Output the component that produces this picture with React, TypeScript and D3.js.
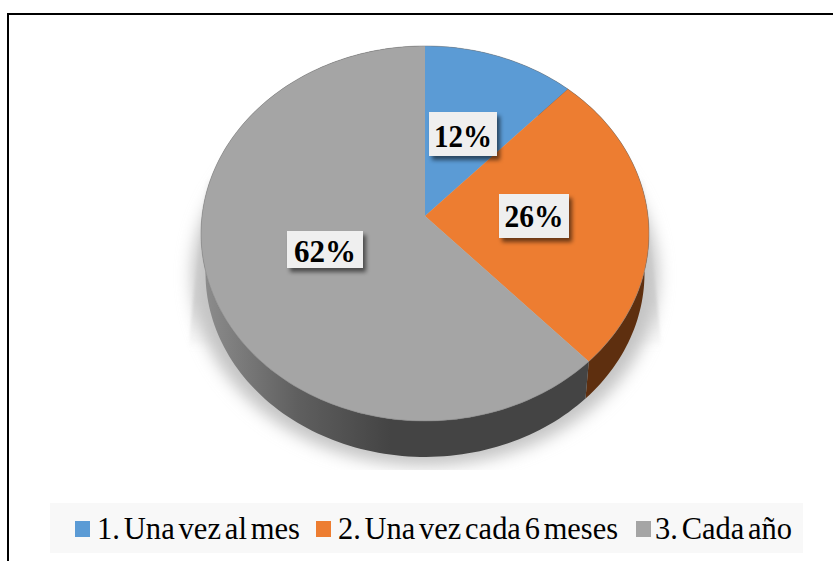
import React from 'react';
import * as d3 from 'd3';

const categories = ['1. Una vez al mes', '2. Una vez cada 6 meses', '3. Cada año'];
const percents = [12, 26, 62];
const colors = ['#5b9bd5', '#ed7d31', '#a5a5a5'];

const width = 833;
const height = 561;
const serif = '"Liberation Serif", serif';

// the pie is tilted: a homography takes the unit circle to the drawn ellipse,
// so the apex sits above the ellipse centre like in the original
const cx = 425;
const topApexY = 216;
const sideApexY = 256;
const sideScale = 0.98;
const a = 223;
const b = 185.9;
const p = -0.0933;

type Pt = [number, number];

function project(angle: number, apexY: number, s: number): Pt {
    const u = Math.sin(angle);
    const v = -Math.cos(angle);
    const den = 1 + p * v;
    return [cx + (s * a * u) / den, apexY + (s * b * v) / den];
}

function arcPoints(start: number, end: number, apexY: number, s: number): Pt[] {
    const n = Math.max(2, Math.ceil((end - start) * 40));
    return d3.range(n + 1).map(i => project(start + ((end - start) * i) / n, apexY, s));
}

const line = d3.line<Pt>();

const slices = d3.pie<number>().sort(null)(percents);
const rim = arcPoints(0, Math.PI * 2, topApexY, 1);

// legend and label layout
const legendBox = {x: 50, y: 503, w: 753, h: 50};
const legendSwatches = [75, 316, 636];
const legendTextX = [97, 338, 655];
const legendTextW = [203, 280, 137];

const labelBoxes = [
    {x: 429, y: 112, w: 68, h: 44, tw: 58, ty: 147},
    {x: 499, y: 194, w: 70, h: 44, tw: 59, ty: 227},
    {x: 287, y: 231, w: 76, h: 37, tw: 62, ty: 262},
];

export default function App() {
    return (
        <svg
            width={width}
            height={height}
            viewBox={`0 0 ${width} ${height}`}
            style={{position: 'absolute', left: 0, top: 0, background: '#fff'}}
        >
            <defs>
                <linearGradient id="graySide" gradientUnits="userSpaceOnUse" x1={205} x2={390} y1={0} y2={0}>
                    <stop offset="0" stopColor="#8c8c8c" />
                    <stop offset="0.5" stopColor="#5f5f5f" />
                    <stop offset="1" stopColor="#444444" />
                </linearGradient>
                <linearGradient id="taperFill" x1={0} x2={0} y1={0} y2={1}>
                    <stop offset="0" stopColor="#e4e4e4" stopOpacity={0.2} />
                    <stop offset="0.7" stopColor="#dcdcdc" stopOpacity={1} />
                    <stop offset="1" stopColor="#dcdcdc" stopOpacity={0} />
                </linearGradient>
                <filter id="floorBlur" x="-10%" y="-10%" width="120%" height="120%">
                    <feGaussianBlur stdDeviation="8" />
                </filter>
                <filter id="taperBlur" x="-5%" y="-5%" width="110%" height="110%">
                    <feGaussianBlur stdDeviation="1.5" />
                </filter>
                <filter id="labelShadow" x="-20%" y="-20%" width="140%" height="150%">
                    <feGaussianBlur stdDeviation="2" />
                </filter>
                <clipPath id="floorClip">
                    <rect x={0} y={0} width={width} height={470} />
                </clipPath>
            </defs>

            <polyline
                points={`${width},14 8,14 8,${height}`}
                fill="none"
                stroke="#000"
                strokeWidth={2}
            />

            <g clipPath="url(#floorClip)">
                <polygon
                    points="206,180 644,180 662,350 188,350"
                    fill="url(#taperFill)"
                    filter="url(#taperBlur)"
                />
                <ellipse cx={cx} cy={276} rx={233} ry={190} fill="#c4c4c4" filter="url(#floorBlur)" />
            </g>

            {slices.map((d, i) => {
                const top = arcPoints(d.startAngle, d.endAngle, topApexY, 1);
                const bottom = arcPoints(d.startAngle, d.endAngle, sideApexY, sideScale).reverse();
                return (
                    <path
                        key={`side-${i}`}
                        d={line([...top, ...bottom]) + 'Z'}
                        fill={i === 2 ? 'url(#graySide)' : i === 1 ? '#5e2f0f' : '#2f5577'}
                    />
                );
            })}

            {slices.map((d, i) => (
                <path
                    key={`top-${i}`}
                    d={line([[cx, topApexY], ...arcPoints(d.startAngle, d.endAngle, topApexY, 1)]) + 'Z'}
                    fill={colors[i]}
                />
            ))}
            <path d={line(rim) + 'Z'} fill="none" stroke="#7a7a7a" strokeWidth={0.8} strokeOpacity={0.6} />

            {labelBoxes.map((box, i) => (
                <g key={`label-${i}`}>
                    <rect
                        x={box.x + 3}
                        y={box.y + 4}
                        width={box.w}
                        height={box.h}
                        fill="#000"
                        opacity={0.55}
                        filter="url(#labelShadow)"
                    />
                    <rect x={box.x} y={box.y} width={box.w} height={box.h} fill="#efefef" />
                    <text
                        x={box.x + box.w / 2}
                        y={box.ty}
                        textAnchor="middle"
                        fontFamily={serif}
                        fontWeight="bold"
                        fontSize={31}
                        textLength={box.tw}
                        lengthAdjust="spacingAndGlyphs"
                        fill="#000"
                    >
                        {`${percents[i]}%`}
                    </text>
                </g>
            ))}

            <rect x={legendBox.x} y={legendBox.y} width={legendBox.w} height={legendBox.h} fill="#f8f8f8" />
            {categories.map((name, i) => (
                <g key={name}>
                    <rect x={legendSwatches[i]} y={521} width={15} height={16} fill={colors[i]} />
                    <text
                        x={legendTextX[i]}
                        y={539}
                        fontFamily={serif}
                        fontSize={32}
                        wordSpacing={-4}
                        textLength={legendTextW[i]}
                        lengthAdjust="spacingAndGlyphs"
                        fill="#000"
                    >
                        {name}
                    </text>
                </g>
            ))}
        </svg>
    );
}
